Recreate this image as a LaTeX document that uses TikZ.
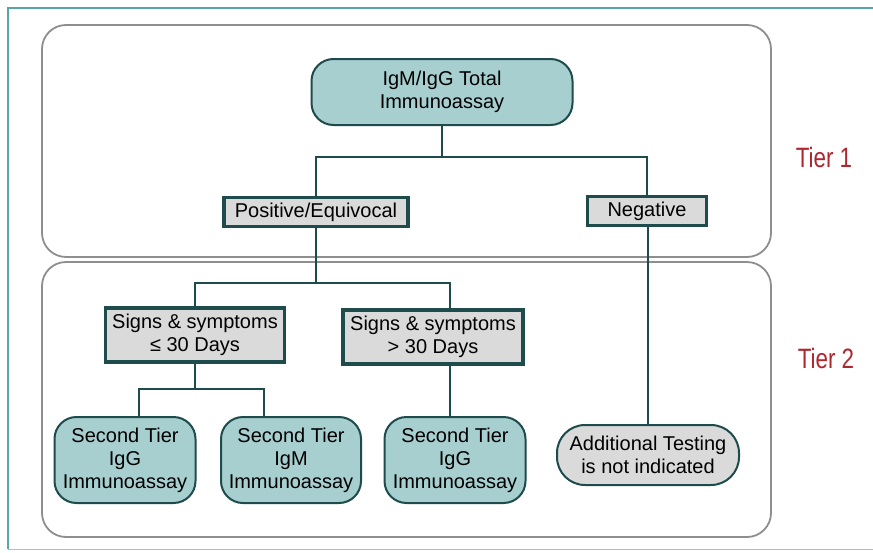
\documentclass[tikz,border=0pt]{standalone}
\usepackage{fontspec}
\setmainfont{Liberation Sans}
\newfontfamily\tierfont{Liberation Sans}[FakeStretch=0.8]
\definecolor{dteal}{HTML}{1E4B4C}
\definecolor{lteal}{HTML}{A8CFD0}
\definecolor{lgray}{HTML}{DADADA}
\definecolor{pgray}{HTML}{8E8E8E}
\definecolor{frame}{HTML}{5AA6A6}
\definecolor{tierred}{HTML}{B0262E}
\begin{document}
\begin{tikzpicture}[x=1pt, y=-1pt,
  panel/.style={draw=pgray, line width=1.8pt, rounded corners=24pt, fill=white},
  link/.style={draw=dteal, line width=2.4pt},
  test/.style={draw=dteal, line width=2pt, fill=lteal, rounded corners=22pt, align=center,
    inner sep=0pt, font=\fontsize{20}{23}\selectfont},
  result/.style={draw=dteal, line width=3.5pt, fill=lgray, align=center,
    inner sep=0pt, font=\fontsize{20}{23}\selectfont},
  tier/.style={text=tierred, font=\tierfont\fontsize{28}{30}\selectfont}]
\useasboundingbox (0,0) rectangle (873,552);
\draw[frame, line width=1.5pt] (8,549) -- (8,8) -- (880,8);
\draw[pgray!60, line width=1pt] (8,549) -- (880,549);

\draw[panel] (42,25) rectangle (771,257);
\draw[panel] (42,262) rectangle (771,537);
\node[tier] (t1) at (824,157) {Tier 1};
\node[tier] (t2) at (826,358) {Tier 2};

\node[test, minimum width=261, minimum height=66] (total) at (442,92) {IgM/IgG Total\\Immunoassay};
\node[result, minimum width=184, minimum height=29] (pos) at (316,212) {Positive/Equivocal};
\node[result, minimum width=119, minimum height=29] (neg) at (647,211) {Negative};
\node[result, minimum width=179, minimum height=54] (early) at (195,335) {Signs \& symptoms\\≤ 30 Days};
\node[result, minimum width=180, minimum height=54] (late) at (433,337) {Signs \& symptoms\\> 30 Days};
\node[test, minimum width=141, minimum height=86] (igg1) at (125,460) {Second Tier\\IgG\\Immunoassay};
\node[test, minimum width=140, minimum height=86] (igm) at (291,460) {Second Tier\\IgM\\Immunoassay};
\node[test, minimum width=141, minimum height=86] (igg2) at (455,460) {Second Tier\\IgG\\Immunoassay};
\node[test, fill=lgray, rounded corners=28pt, minimum width=182, minimum height=60] (none) at (648,455) {Additional Testing\\is not indicated};

\coordinate (j1) at (442,157);
\coordinate (j2) at (316,283);
\coordinate (j3) at (195,389);
\draw[link] (total) -- (j1);
\draw[link] (pos.north) |- (j1) -| (neg.north);
\draw[link] (pos) -- (j2);
\draw[link] (early.north) |- (j2) -| (late.north -| 450,0);
\draw[link] (early) -- (j3);
\draw[link] (igg1.north -| 139,0) |- (j3) -| (igm.north -| 264,0);
\draw[link] (late.south -| 450,0) -- (igg2.north -| 450,0);
\draw[link] (neg.south -| 648,0) -- (none);
\end{tikzpicture}
\end{document}
